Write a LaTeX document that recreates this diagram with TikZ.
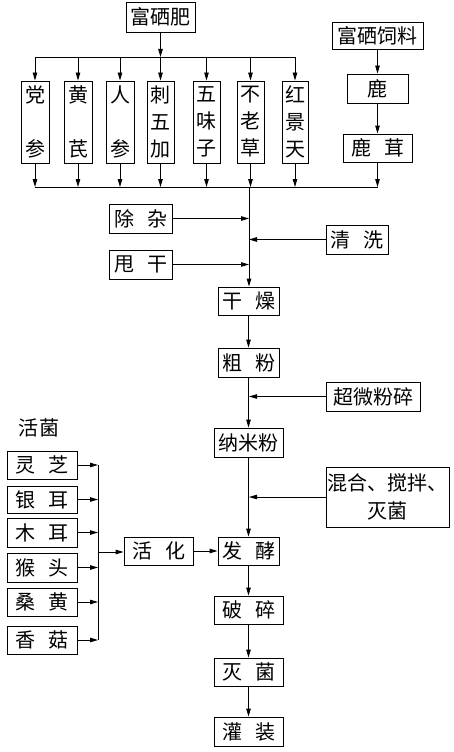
\documentclass[tikz,border=0pt]{standalone}
\usepackage{fontspec}
\setmainfont{Noto Sans CJK SC}
\usetikzlibrary{arrows.meta}
\newcommand\gapp{\hspace{13pt}}
\begin{document}
\begin{tikzpicture}[x=1pt,y=-1pt,
  box/.style={draw, line width=0.9pt, inner sep=0pt, font=\fontsize{20}{27}\selectfont, align=center},
  herb/.style={box, minimum height=82pt},
  lbox/.style={box, minimum width=70pt},
  arr/.style={line width=0.9pt, -{Triangle[length=8pt,width=4.5pt]}},
  ln/.style={line width=0.9pt}]
\useasboundingbox[fill=white] (0,0) rectangle (453,752);
% top
\node[box, minimum width=69pt, minimum height=30pt] (fxf) at (160.5,17) {富硒肥};
\node[box, minimum width=91pt, minimum height=27pt] (fxsl) at (377.5,35.5) {富硒饲料};
\node[box, minimum width=61pt, minimum height=29pt] (lu) at (377.5,88.5) {鹿};
\node[box, minimum width=69pt, minimum height=28pt] (lr) at (377.5,148) {鹿\gapp 茸};
\node[herb, minimum width=28pt] (h1) at (35,122) {党\\[27pt]参};
\node[herb, minimum width=28pt] (h2) at (78,122) {黄\\[27pt]芪};
\node[herb, minimum width=28pt] (h3) at (120,122) {人\\[27pt]参};
\node[herb, minimum width=27pt] (h4) at (160.5,122) {刺\\五\\加};
\node[herb, minimum width=27pt] (h5) at (206.5,122) {五\\味\\子};
\node[herb, minimum width=27pt] (h6) at (250.5,122) {不\\老\\草};
\node[herb, minimum width=26pt] (h7) at (295,122) {红\\景\\天};
\coordinate (tb) at (160.5,57);
\coordinate (bb) at (249,187);
% middle
\node[box, minimum width=63pt, minimum height=29pt] (cz) at (140.5,218.5) {除\gapp 杂};
\node[box, minimum width=62pt, minimum height=29pt] (qx) at (357,239.5) {清\gapp 洗};
\node[box, minimum width=63pt, minimum height=29pt] (sg) at (140.5,264.5) {甩\gapp 干};
\node[box, minimum width=61pt, minimum height=28pt] (gz) at (248.5,301) {干\gapp 燥};
\node[box, minimum width=61pt, minimum height=29pt] (cf) at (248.5,362.5) {粗\gapp 粉};
\node[box, minimum width=94pt, minimum height=29pt] (cw) at (373,396.5) {超微粉碎};
\node[font=\fontsize{20}{24}\selectfont] (hj) at (39,428) {活菌};
\node[box, minimum width=69pt, minimum height=29pt] (nm) at (248.5,442.5) {纳米粉};
\node[box, minimum width=123pt, minimum height=60pt, font=\fontsize{20}{28}\selectfont] (hh) at (387.5,497) {混合、搅拌、\\灭菌};
\node[box, minimum width=61pt, minimum height=28pt] (fj) at (248.5,551) {发\gapp 酵};
\node[box, minimum width=69pt, minimum height=28pt] (hua) at (158.5,551) {活\gapp 化};
% left boxes
\node[lbox, minimum height=28pt] (l1) at (42,465) {灵\gapp 芝};
\node[lbox, minimum height=27pt] (l2) at (42,499.5) {银\gapp 耳};
\node[lbox, minimum height=29pt] (l3) at (42,532.5) {木\gapp 耳};
\node[lbox, minimum height=29pt] (l4) at (42,567.5) {猴\gapp 头};
\node[lbox, minimum height=28pt] (l5) at (42,602) {桑\gapp 黄};
\node[lbox, minimum height=28pt] (l6) at (42,640) {香\gapp 菇};
\coordinate (lb) at (98,552);
% bottom
\node[box, minimum width=69pt, minimum height=28pt] (ps) at (248.5,610) {破\gapp 碎};
\node[box, minimum width=69pt, minimum height=28pt] (mj) at (248.5,672) {灭\gapp 菌};
\node[box, minimum width=69pt, minimum height=29pt] (gzh) at (248.5,731.5) {灌\gapp 装};
% connectors top
\draw[arr] (fxf) -- (tb);
\draw[ln] (h1.north |- tb) -- (h7.north |- tb);
\foreach \h in {h1,h2,h3,h4,h5,h6,h7} {
  \draw[arr] (\h.north |- tb) -- (\h.north);
  \draw[arr] (\h.south) -- (\h.south |- bb);
}
\draw[arr] (fxsl) -- (lu);
\draw[arr] (lu) -- (lr);
\draw[arr] (lr.south) -- (lr.south |- bb);
\draw[ln] (h1.south |- bb) -- (lr.south |- bb);
% trunk
\draw[arr] (bb) -- (gz.north -| bb);
\draw[arr] (cz.east) -- (cz.east -| bb);
\draw[arr] (qx.west) -- (qx.west -| bb);
\draw[arr] (sg.east) -- (sg.east -| bb);
\draw[arr] (gz) -- (cf);
\draw[arr] (cf) -- (nm);
\draw[arr] (cw.west) -- (cw.west -| bb);
\draw[arr] (nm) -- (fj);
\draw[arr] (hh.west) -- (hh.west -| bb);
\draw[arr] (hua) -- (fj);
\draw[arr] (fj) -- (ps);
\draw[arr] (ps) -- (mj);
\draw[arr] (mj) -- (gzh);
% left bus
\foreach \l in {l1,l2,l3,l4,l5,l6} {
  \draw[arr] (\l.east) -- (\l.east -| lb);
}
\draw[ln] (l1.east -| lb) -- (l6.east -| lb);
\draw[arr] (lb) -- (lb -| hua.west);
\end{tikzpicture}
\end{document}
